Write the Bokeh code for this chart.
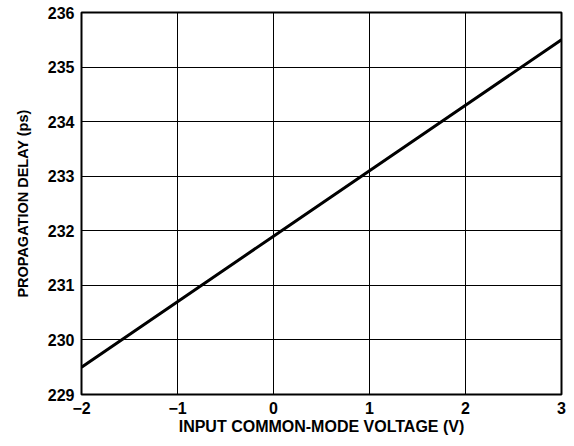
from bokeh.plotting import figure
from bokeh.embed import file_html
from bokeh.resources import INLINE
from bokeh.models import Range1d, FixedTicker

voltage = [-2, -1, 0, 1, 2, 3]
delay_ps = [229.5, 230.7, 231.9, 233.1, 234.3, 235.5]
x_ticks = [-2, -1, 0, 1, 2, 3]
y_ticks = [229, 230, 231, 232, 233, 234, 235, 236]

p = figure(output_backend="svg", toolbar_location=None,
           frame_width=480, frame_height=382,
           min_border_left=81, min_border_right=10, min_border_top=12, min_border_bottom=46,
           x_range=Range1d(-2, 3), y_range=Range1d(229, 236))

p.line(voltage, delay_ps, line_color="black", line_width=3)

p.xaxis.ticker = FixedTicker(ticks=x_ticks)
p.yaxis.ticker = FixedTicker(ticks=y_ticks)
p.xaxis.major_label_overrides = {t: ("\u2212" + str(-t) if t < 0 else str(t)) for t in x_ticks}

for ax in (p.xaxis, p.yaxis):
    ax.axis_line_color = None
    ax.major_tick_in = 0
    ax.major_tick_out = 0
    ax.minor_tick_in = 0
    ax.minor_tick_out = 0
    ax.major_label_text_font = "Liberation Sans"
    ax.major_label_text_font_style = "bold"
    ax.major_label_text_font_size = "16px"
    ax.major_label_text_color = "black"
    ax.axis_label_text_font = "Liberation Sans"
    ax.axis_label_text_font_style = "bold"
    ax.axis_label_text_color = "black"

p.xaxis.axis_label_text_font_size = "16px"
p.yaxis.axis_label_text_font_size = "14.5px"
p.xaxis.major_label_standoff = 7
p.yaxis.major_label_standoff = 7
p.xaxis.axis_label = "INPUT COMMON-MODE VOLTAGE (V)"
p.yaxis.axis_label = "PROPAGATION DELAY (ps)"
p.xaxis.axis_label_standoff = 1
p.yaxis.axis_label_standoff = 14

p.xgrid.grid_line_color = "black"
p.ygrid.grid_line_color = "black"
p.xgrid.grid_line_width = 1
p.ygrid.grid_line_width = 1
p.xgrid.grid_line_alpha = 1
p.ygrid.grid_line_alpha = 1

p.outline_line_color = "black"
p.outline_line_width = 2
p.outline_line_alpha = 1

open("out.html", "w").write(file_html(p, INLINE))
